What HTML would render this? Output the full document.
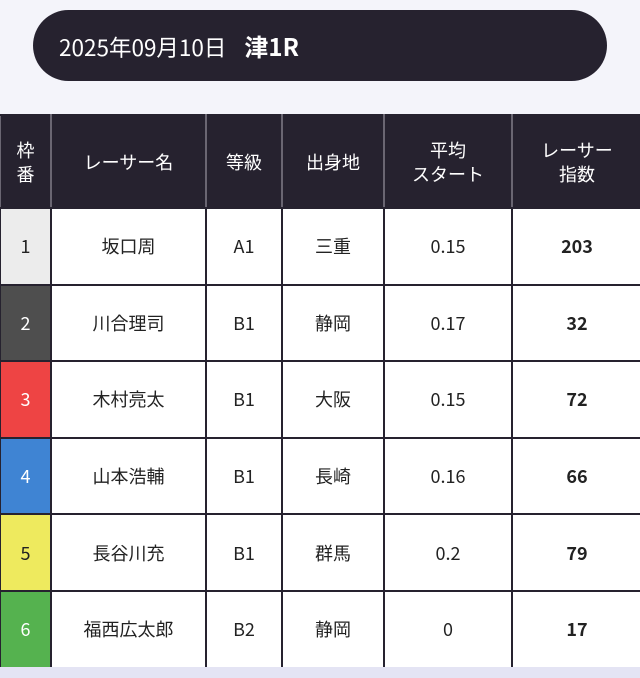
<!DOCTYPE html>
<html><head><meta charset="utf-8"><style>
*{margin:0;padding:0;box-sizing:border-box}
body{width:640px;height:678px;background:#f4f4fa;font-family:"Noto Sans CJK JP","Liberation Sans",sans-serif;position:relative;overflow:hidden}
.pill{position:absolute;left:33px;top:10px;width:574px;height:71px;background:#26222f;border-radius:36px;color:#fff;font-size:22.5px;line-height:71px;padding-left:26px}
.pill b{font-size:24px;margin-left:18px}
.bottom{position:absolute;left:0;top:667px;width:640px;height:11px;background:#e4e4f4}
table{position:absolute;left:-1px;top:114px;width:642px;border-collapse:collapse;table-layout:fixed}
td,th{border:2px solid #26222f;text-align:center;font-size:18px;color:#222;font-weight:normal;padding:0}
th{background:#26222f;color:#fff;height:93px;border-left:2px solid #6a6672;border-right:2px solid #6a6672;line-height:24px}
td{height:76.6px;background:#fff}
td.n{color:#fff}
td.bold{font-weight:bold}
</style></head><body>
<div class="pill">2025年09月10日<b>津1R</b></div>
<table>
<colgroup><col style="width:51px"><col style="width:155px"><col style="width:76px"><col style="width:102px"><col style="width:128px"><col style="width:130px"></colgroup>
<tr><th>枠<br>番</th><th>レーサー名</th><th>等級</th><th>出身地</th><th>平均<br>スタート</th><th>レーサー<br>指数</th></tr>
<tr><td class="n" style="background:#ececec;color:#222">1</td><td>坂口周</td><td>A1</td><td>三重</td><td>0.15</td><td class="bold">203</td></tr>
<tr><td class="n" style="background:#4e4e4e">2</td><td>川合理司</td><td>B1</td><td>静岡</td><td>0.17</td><td class="bold">32</td></tr>
<tr><td class="n" style="background:#ee4444">3</td><td>木村亮太</td><td>B1</td><td>大阪</td><td>0.15</td><td class="bold">72</td></tr>
<tr><td class="n" style="background:#3f84d3">4</td><td>山本浩輔</td><td>B1</td><td>長崎</td><td>0.16</td><td class="bold">66</td></tr>
<tr><td class="n" style="background:#eeea5e;color:#222">5</td><td>長谷川充</td><td>B1</td><td>群馬</td><td>0.2</td><td class="bold">79</td></tr>
<tr><td class="n" style="background:#55b24f">6</td><td>福西広太郎</td><td>B2</td><td>静岡</td><td>0</td><td class="bold">17</td></tr>
</table>
<div class="bottom"></div>
</body></html>
